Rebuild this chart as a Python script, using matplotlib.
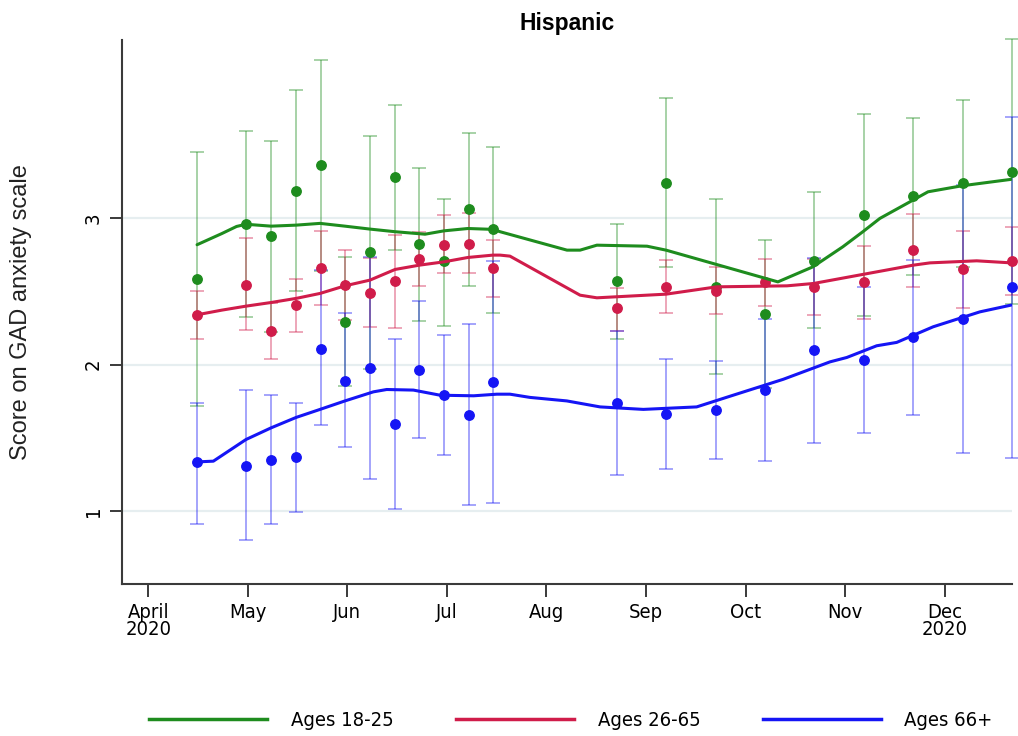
import os
import matplotlib
matplotlib.use("Agg")
import matplotlib.pyplot as plt
from matplotlib import font_manager
from matplotlib.font_manager import FontProperties
from matplotlib.lines import Line2D

# ---------------- data ----------------
weeks = [1, 3, 4, 5, 6, 7, 8, 9, 10, 11, 12, 13, 18, 20, 22, 24, 26, 28, 30, 32, 34]

g_mean = [2.585, 2.961, 2.879, 3.189, 3.362, 2.293, 2.767, 3.28, 2.822, 2.706, 3.064, 2.925,
          2.569, 3.244, 2.532, 2.348, 2.71, 3.025, 3.153, 3.244, 3.317]
g_lo = [1.716, 2.325, 2.224, 2.505, 2.64, 1.853, 1.971, 2.783, 2.30, 2.265, 2.537, 2.354,
        2.172, 2.665, 1.933, 1.84, 2.254, 2.334, 2.612, 2.669, 2.414]
g_hi = [3.454, 3.595, 3.531, 3.876, 4.085, 2.733, 3.565, 3.775, 3.346, 3.132, 3.583, 3.49,
        2.963, 3.823, 3.13, 2.852, 3.182, 3.713, 3.684, 3.81, 4.224]

r_mean = [2.341, 2.548, 2.231, 2.405, 2.662, 2.544, 2.487, 2.571, 2.72, 2.82, 2.826, 2.66,
          2.384, 2.532, 2.505, 2.562, 2.532, 2.562, 2.783, 2.653, 2.71]
r_lo = [2.172, 2.234, 2.038, 2.224, 2.405, 2.304, 2.259, 2.252, 2.535, 2.624, 2.624, 2.464,
        2.231, 2.354, 2.343, 2.40, 2.341, 2.313, 2.532, 2.384, 2.473]
r_hi = [2.505, 2.863, 2.42, 2.585, 2.915, 2.783, 2.728, 2.888, 2.904, 3.025, 3.034, 2.854,
        2.525, 2.715, 2.665, 2.724, 2.72, 2.813, 3.03, 2.915, 2.943]

b_mean = [1.331, 1.31, 1.349, 1.367, 2.11, 1.889, 1.978, 1.591, 1.962, 1.791, 1.655, 1.88,
          1.735, 1.661, 1.687, 1.83, 2.097, 2.031, 2.186, 2.309, 2.532]
b_lo = [0.911, 0.801, 0.907, 0.989, 1.584, 1.434, 1.217, 1.012, 1.497, 1.383, 1.039, 1.055,
        1.242, 1.283, 1.352, 1.342, 1.463, 1.534, 1.653, 1.393, 1.36]
b_hi = [1.741, 1.826, 1.791, 1.741, 2.644, 2.35, 2.737, 2.172, 2.434, 2.206, 2.275, 2.706,
        2.231, 2.042, 2.022, 2.313, 2.728, 2.532, 2.715, 3.228, 3.695]

# smoothed (lowess) curves
g_fit_x = [1, 2.01, 2.6, 2.98, 4.0, 5.01, 5.98, 6.99, 8.0, 9.02, 10.23, 11.0, 11.97, 12.98,
           13.27, 15.98, 16.51, 17.19, 19.22, 19.99, 24.52, 25.94, 27.15, 27.96, 28.65,
           29.99, 30.6, 31.97, 33.96]
g_fit_y = [2.82, 2.897, 2.945, 2.96, 2.947, 2.954, 2.966, 2.947, 2.927, 2.909, 2.892, 2.915,
           2.931, 2.925, 2.909, 2.783, 2.783, 2.817, 2.81, 2.783, 2.566, 2.669, 2.806, 2.909,
           3.0, 3.125, 3.182, 3.223, 3.267]

r_fit_x = [1, 2.01, 2.98, 4.0, 5.01, 5.98, 6.99, 8.0, 9.02, 9.99, 11.0, 11.97, 12.98, 13.27,
           13.67, 16.51, 17.19, 19.99, 22.04, 24.89, 25.96, 29.99, 30.68, 32.57, 33.96]
r_fit_y = [2.341, 2.373, 2.40, 2.425, 2.453, 2.487, 2.539, 2.578, 2.651, 2.68, 2.703, 2.733,
           2.749, 2.749, 2.742, 2.475, 2.457, 2.482, 2.532, 2.539, 2.555, 2.68, 2.696, 2.71,
           2.696]

b_fit_x = [1, 1.66, 2.98, 4.0, 5.01, 5.98, 6.99, 8.14, 8.68, 9.76, 10.84, 12.2, 13.14, 13.67,
           14.48, 15.97, 17.32, 19.07, 21.23, 22.71, 24.74, 26.63, 27.31, 28.52, 29.33,
           30.81, 32.7, 33.96]
b_fit_y = [1.335, 1.34, 1.488, 1.568, 1.639, 1.694, 1.752, 1.814, 1.83, 1.826, 1.791, 1.787,
           1.798, 1.798, 1.776, 1.752, 1.711, 1.694, 1.711, 1.791, 1.9, 2.019, 2.049, 2.129,
           2.152, 2.259, 2.361, 2.407]

tick_weeks = [-0.98, 3.06, 7.07, 11.12, 15.13, 19.18, 23.23, 27.23, 31.28]
tick_labels = ["April\n2020", "May", "Jun", "Jul", "Aug", "Sep", "Oct", "Nov", "Dec\n2020"]
y_ticks = [1, 2, 3]
series_names = ["Ages 18-25", "Ages 26-65", "Ages 66+"]

# ---------------- fonts ----------------
def has_font(name):
    try:
        font_manager.findfont(FontProperties(family=name), fallback_to_default=False)
        return True
    except Exception:
        return False

REG = "Liberation Sans" if has_font("Liberation Sans") else "DejaVu Sans"


def find_narrow_file():
    best = None
    for f in font_manager.fontManager.ttflist:
        base = os.path.basename(f.fname).lower()
        nm = f.name.lower()
        key = base + " " + nm
        if not ("narrow" in key or "condensed" in key or "cond" in base):
            continue
        bad = ("bold", "italic", "light", "thin", "medium", "black", "extra", "ultra",
               "mono", "oblique", "heavy", "cjk")
        if any(b in base for b in bad):
            continue
        if "serif" in key and "sans" not in key:
            continue
        if "liberation" in key and "narrow" in key:
            rank = 0
        elif "arial" in key:
            rank = 1
        elif "semi" in key:
            rank = 5
        elif "noto" in key:
            rank = 2
        elif "open" in key:
            rank = 3
        elif "dejavu" in key:
            rank = 4
        else:
            rank = 6
        if best is None or rank < best[0]:
            best = (rank, f.fname)
    return best[1] if best else None


NARROW_FILE = find_narrow_file()


def narrow_fp(size):
    if NARROW_FILE:
        return FontProperties(fname=NARROW_FILE, size=size)
    return FontProperties(family=REG, size=size * 0.84)

# ---------------- style ----------------
GREEN = "#1e8c1e"
RED = "#d01c4a"
BLUE = "#1515f5"
FS = 14.5

W, H = 1018, 736
fig = plt.figure(figsize=(W / 100, H / 100), dpi=100)
ax = fig.add_axes([122 / W, 1 - 584 / H, (1012 - 122) / W, (584 - 40) / H])

ax.set_xlim(-2.04, 34.0)
ax.set_ylim(0.5, 4.22)

ax.yaxis.grid(True, color="#e6eef0", lw=1.6)
ax.set_axisbelow(True)

groups = [
    (g_mean, g_lo, g_hi, g_fit_x, g_fit_y, GREEN),
    (r_mean, r_lo, r_hi, r_fit_x, r_fit_y, RED),
    (b_mean, b_lo, b_hi, b_fit_x, b_fit_y, BLUE),
]

for mean, lo, hi, fx, fy, col in groups:
    yerr = [[m - l for m, l in zip(mean, lo)], [h - m for m, h in zip(mean, hi)]]
    cont = ax.errorbar(weeks, mean, yerr=yerr, fmt="none", ecolor=col, alpha=0.42,
                       elinewidth=1.3, capsize=5, capthick=1.3, zorder=2)
    for art in cont.get_children():
        art.set_clip_on(False)

for mean, lo, hi, fx, fy, col in groups:
    ax.plot(weeks, mean, "o", color=col, ms=6.8, mec=col, zorder=3, clip_on=False)

for mean, lo, hi, fx, fy, col in groups:
    ax.plot(fx, fy, "-", color=col, lw=2.2, zorder=4, solid_capstyle="round")

for s in ["top", "right"]:
    ax.spines[s].set_visible(False)
for s in ["left", "bottom"]:
    ax.spines[s].set_color("#3a3a3a")
    ax.spines[s].set_linewidth(1.5)

ax.set_xticks(tick_weeks)
ax.set_xticklabels(tick_labels, fontproperties=narrow_fp(FS), linespacing=0.85)
ax.tick_params(axis="x", length=9, width=1.4, color="#3a3a3a", pad=5)

ax.set_yticks(y_ticks)
ax.set_yticklabels([str(v) for v in y_ticks], rotation=90, va="center",
                   fontproperties=narrow_fp(FS))
ax.tick_params(axis="y", length=9, width=1.4, color="#3a3a3a", pad=5)

ax.set_title("Hispanic", fontsize=16.5, fontweight="bold", family=REG, pad=7)

fig.text(21 / W, 1 - 312 / H, "Score on GAD anxiety scale", rotation=90,
         ha="center", va="center", fontsize=17, family=REG, color="#222222")

em = FS * 100 / 72
handles = [Line2D([], [], color=c, lw=2.5) for c in (GREEN, RED, BLUE)]
fig.legend(handles, series_names, loc="center", bbox_to_anchor=(571 / W, 1 - 721 / H),
           ncol=3, frameon=False, prop=narrow_fp(FS),
           handlelength=118 / em, handletextpad=24 / em, columnspacing=62 / em)

fig.savefig("out.png", dpi=100)
